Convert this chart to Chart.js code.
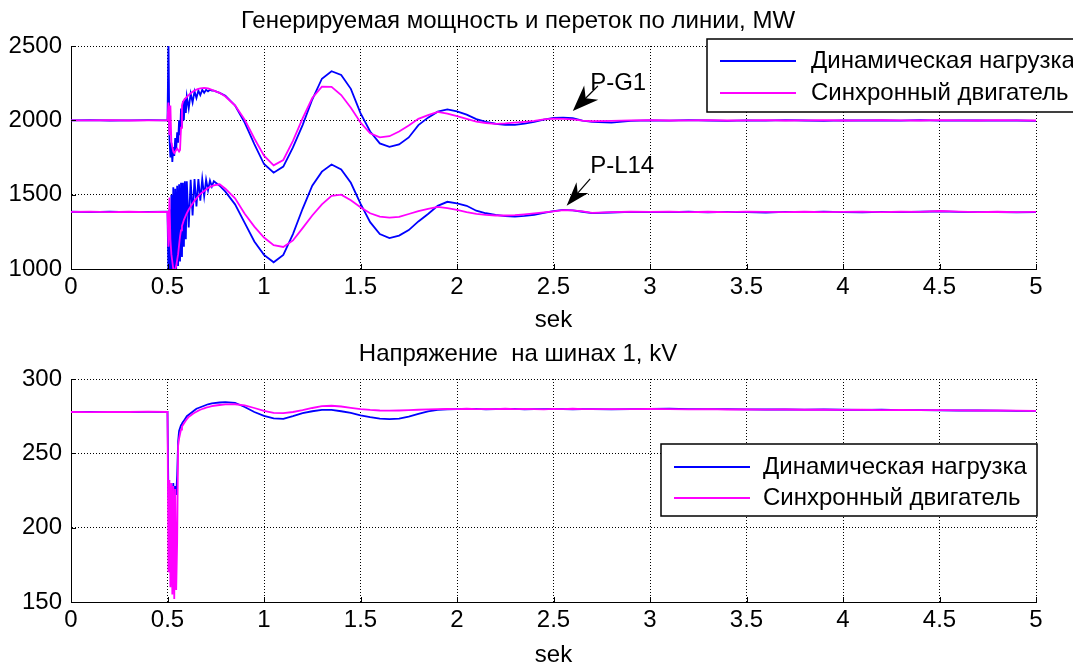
<!DOCTYPE html>
<html>
<head>
<meta charset="utf-8">
<script src="https://cdn.jsdelivr.net/npm/chart.js@4/dist/chart.umd.min.js"></script>
<style>
html,body{margin:0;padding:0;background:#fff;overflow:hidden;width:1073px;height:663px;}
#top{position:absolute;left:0;top:0;}
#bot{position:absolute;left:0;top:336px;}
</style>
</head>
<body>
<canvas id="top" width="1073" height="336"></canvas>
<canvas id="bot" width="1073" height="340"></canvas>
<script>
var FONT = '"Liberation Sans", Arial, sans-serif';
var FS = 24;

// time, s
var tSec = [0, 0.1, 0.2, 0.3, 0.4, 0.5,
    0.505, 0.51, 0.515, 0.52, 0.525, 0.53, 0.535, 0.54, 0.545, 0.55, 0.555, 0.56, 0.565, 0.57, 0.575, 0.58, 0.585, 0.59, 0.595, 0.6,
    0.61, 0.62, 0.63, 0.64, 0.65, 0.66, 0.67, 0.68, 0.69, 0.7, 0.71, 0.72, 0.73, 0.74,
    0.77, 0.8, 0.85, 0.9, 0.95, 1.0, 1.05, 1.1, 1.15, 1.2, 1.25, 1.3, 1.35, 1.4, 1.45, 1.5, 1.55, 1.6, 1.65, 1.7,
    1.75, 1.8, 1.85, 1.9, 1.95, 2.0, 2.05, 2.1, 2.15, 2.2, 2.25, 2.3, 2.35, 2.4, 2.45, 2.5, 2.55, 2.6, 2.65, 2.7,
    2.8, 2.9, 3.0, 3.1, 3.2, 3.3, 3.4, 3.5, 3.6, 3.7, 3.8, 3.9, 4.0, 4.1, 4.2, 4.3, 4.4, 4.5, 4.6, 4.7, 4.8, 4.9, 5.0];

// generator G1, MW
var g1Dyn = [2000, 2001, 1999, 2000, 2001, 2000,
    2560, 1880, 1750, 1850, 1720, 1820, 1760, 1880, 1800, 1920, 1850, 2000, 1900, 2080, 1950, 2130, 2000, 2150, 2050, 2160,
    2080, 2180, 2120, 2195, 2150, 2200, 2170, 2205, 2185, 2205, 2195, 2205, 2200, 2200,
    2185, 2165, 2100, 1985, 1840, 1706, 1648, 1689, 1818, 1968, 2140, 2280, 2330, 2305, 2212, 2048, 1925, 1845, 1822, 1838,
    1885, 1968, 2018, 2058, 2073, 2060, 2038, 2008, 1990, 1977, 1970, 1970, 1978, 1990, 2004, 2016, 2018, 2014, 1998, 1990,
    1985, 1996, 2000, 1998, 2001, 1999, 1997, 2000, 1998, 2001, 1999, 1997, 2000, 1999, 2000, 1998, 2001, 1998, 1999, 2000, 1998, 1999, 1997];
var g1Syn = [2000, 2000, 2001, 1999, 2000, 2000,
    2120, 1900, 2100, 1850, 1820, 1790, 1780, 1790, 1800, 1810, 1800, 1790, 1800, 1950, 2100, 2125, 2135, 2145, 2150, 2158,
    2170, 2182, 2192, 2200, 2207, 2212, 2215, 2217, 2218, 2217, 2215, 2210, 2205, 2200,
    2185, 2160, 2100, 2005, 1878, 1762, 1697, 1733, 1862, 2013, 2150, 2226, 2225, 2170, 2085, 1985, 1913, 1886, 1893, 1925,
    1965, 2010, 2035, 2057, 2045, 2028, 2010, 1992, 1982, 1976, 1979, 1984, 1990, 1996, 2006, 2012, 2010, 2006, 1998, 1994,
    1996, 2000, 2001, 1999, 2000, 2002, 1999, 2000, 2001, 1999, 2000, 2001, 1999, 2000, 2002, 2000, 1999, 2001, 2000, 1999, 2001, 2000, 1999];

// line L14, MW
var l14Dyn = [1385, 1383, 1386, 1382, 1384, 1385,
    950, 1400, 960, 1500, 950, 1550, 980, 1540, 1000, 1560, 1020, 1570, 1050, 1580, 1080, 1580, 1150, 1590, 1200, 1590,
    1280, 1600, 1360, 1605, 1420, 1605, 1460, 1605, 1490, 1600, 1530, 1595, 1555, 1590,
    1560, 1520, 1435, 1310, 1185, 1095, 1045, 1095, 1235, 1405, 1560, 1655, 1703, 1670, 1580, 1440, 1315, 1235, 1208, 1225,
    1262, 1320, 1370, 1425, 1452, 1442, 1425, 1392, 1375, 1364, 1355, 1352, 1357, 1365, 1377, 1390, 1398, 1395, 1385, 1376,
    1380, 1384, 1383, 1382, 1385, 1381, 1384, 1383, 1380, 1384, 1382, 1386, 1383, 1381, 1384, 1383, 1385, 1388, 1384, 1382, 1383, 1381, 1382];
var l14Syn = [1384, 1386, 1383, 1385, 1383, 1385,
    1150, 1480, 1200, 1100, 1050, 1000, 990, 1000, 1020, 1060, 1100, 1160, 1220, 1260, 1290, 1310, 1330, 1345, 1360, 1375,
    1400, 1420, 1440, 1460, 1475, 1490, 1505, 1515, 1525, 1535, 1545, 1552, 1558, 1563,
    1570, 1540, 1475, 1372, 1285, 1212, 1160, 1148, 1192, 1275, 1360, 1435, 1492, 1500, 1462, 1415, 1375, 1352, 1345, 1350,
    1370, 1390, 1405, 1418, 1410, 1397, 1383, 1371, 1364, 1360, 1360, 1363, 1368, 1374, 1381, 1388, 1396, 1394, 1387, 1378,
    1382, 1385, 1384, 1386, 1383, 1385, 1382, 1386, 1384, 1383, 1385, 1382, 1384, 1386, 1383, 1385, 1384, 1390, 1386, 1383, 1385, 1382, 1384];

// bus 1 voltage, kV
var uDyn = [277.8, 277.9, 277.7, 277.8, 277.9, 277.8,
    220, 228, 214, 226, 216, 230, 218, 228, 222, 235, 258, 265, 267, 269, 270, 271, 272, 273, 274, 275,
    276, 277, 278, 279, 280, 280.5, 281, 281.5, 282, 282.5, 283, 283.3, 283.6, 283.8,
    284.2, 284.5, 284, 281.2, 277.8, 275.2, 273.5, 273.2, 275, 277, 278.3, 279.2, 279.2, 278.3, 277.2, 275.6, 274.3, 273.3, 273, 273.4,
    274.7, 276.5, 278.2, 279.2, 279.6, 279.8, 279.7, 279.9, 279.6, 279.8, 279.7, 279.9, 279.6, 279.8, 279.7, 279.9, 279.8, 279.6, 279.8, 279.7,
    279.6, 279.8, 279.9, 280, 279.8, 279.7, 279.8, 279.6, 279.5, 279.6, 279.4, 279.5, 279.3, 279.2, 279.3, 279.1, 279, 278.9, 278.8, 278.9, 278.7, 278.6, 278.5];
var uSyn = [277.8, 277.7, 277.9, 277.8, 278, 277.8,
    170, 232, 160, 230, 155, 228, 152, 226, 158, 190, 255, 260, 263, 266, 268, 269, 270, 271, 272, 273,
    274.5, 275.5, 276.5, 277.3, 278, 278.7, 279.3, 279.8, 280.3, 280.7, 281, 281.4, 281.7, 282,
    282.5, 282.9, 283, 282.3, 280.5, 278.5, 277.2, 277, 277.8, 279, 280.5, 281.7, 282, 281.5, 280.6, 279.8, 279.2, 278.8, 278.7, 278.8,
    279, 279.3, 279.6, 279.8, 279.9, 279.8, 280, 279.7, 279.9, 279.8, 280, 279.7, 279.9, 279.8, 279.6, 279.9, 279.8, 280, 279.7, 279.8,
    279.8, 279.7, 279.9, 279.8, 279.6, 279.7, 279.5, 279.6, 279.4, 279.5, 279.3, 279.4, 279.2, 279.3, 279.1, 279.2, 279, 279.1, 278.9, 278.8, 278.9, 278.7, 278.6];

var legendLabels = ['Динамическая нагрузка', 'Синхронный двигатель'];
var lineColors = ['#0000ff', '#ff00ff'];

// text tags on the upper plot: [label, text x, text y, arrow tail x, y, arrow tip x, y] (axis units)
var tagG1 = ['P-G1', 2.69, 2251, 2.73, 2231, 2.60, 2063];
var tagL14 = ['P-L14', 2.69, 1693, 2.69, 1606, 2.568, 1426];

function pts(ys) {
    return tSec.map(function (t, i) { return {x: t, y: ys[i]}; });
}

function ds(ys, k) {
    return {
        data: pts(ys),
        borderColor: lineColors[k],
        borderWidth: 1.8,
        pointRadius: 0,
        tension: 0,
        fill: false,
        order: k == 0 ? 2 : 1
    };
}

function arrow(ctx, x0, y0, x1, y1, len, w) {
    var dx = x1 - x0, dy = y1 - y0, d = Math.sqrt(dx * dx + dy * dy);
    var ux = dx / d, uy = dy / d, nx = -uy, ny = ux;
    ctx.beginPath();
    ctx.moveTo(x0, y0);
    ctx.lineTo(x1 - ux * len * 0.6, y1 - uy * len * 0.6);
    ctx.stroke();
    ctx.beginPath();
    ctx.moveTo(x1, y1);
    ctx.lineTo(x1 - ux * len + nx * w, y1 - uy * len + ny * w);
    ctx.lineTo(x1 - ux * len * 0.7, y1 - uy * len * 0.7);
    ctx.lineTo(x1 - ux * len - nx * w, y1 - uy * len - ny * w);
    ctx.closePath();
    ctx.fill();
}

var matlabPlugin = {
    id: 'matlab',
    afterDraw: function (chart, args, opts) {
        var ctx = chart.ctx, xs = chart.scales.x, ys = chart.scales.y, a = chart.chartArea;
        ctx.save();
        ctx.strokeStyle = '#000';
        ctx.fillStyle = '#000';
        ctx.lineWidth = 1;
        // inward ticks
        xs.ticks.forEach(function (tk) {
            var px = Math.round(xs.getPixelForValue(tk.value)) + 0.5;
            ctx.beginPath(); ctx.moveTo(px, a.bottom); ctx.lineTo(px, a.bottom - 5); ctx.stroke();
        });
        ys.ticks.forEach(function (tk) {
            var py = Math.round(ys.getPixelForValue(tk.value)) + 0.5;
            ctx.beginPath(); ctx.moveTo(a.left, py); ctx.lineTo(a.left + 5, py); ctx.stroke();
        });
        // tags with arrows
        ctx.font = FS + 'px ' + FONT;
        ctx.textBaseline = 'middle';
        ctx.textAlign = 'left';
        (opts.tags || []).forEach(function (tg, i) {
            ctx.fillText(tg[0], xs.getPixelForValue(tg[1]), ys.getPixelForValue(tg[2]));
            ctx.lineWidth = 1.2;
            arrow(ctx, xs.getPixelForValue(tg[3]), ys.getPixelForValue(tg[4]),
                xs.getPixelForValue(tg[5]), ys.getPixelForValue(tg[6]), i == 0 ? 26 : 24, i == 0 ? 10 : 8);
        });
        // legend
        var lg = opts.box;
        ctx.fillStyle = '#fff';
        ctx.fillRect(lg[0], lg[1], lg[2], lg[3]);
        ctx.lineWidth = 1.5;
        ctx.strokeStyle = '#000';
        ctx.strokeRect(lg[0], lg[1], lg[2], lg[3]);
        legendLabels.forEach(function (txt, i) {
            var y = lg[1] + lg[4] + i * lg[5];
            ctx.strokeStyle = lineColors[i];
            ctx.lineWidth = 1.8;
            ctx.beginPath(); ctx.moveTo(lg[0] + 13, y); ctx.lineTo(lg[0] + 89, y); ctx.stroke();
            ctx.fillStyle = '#000';
            ctx.fillText(txt, lg[0] + lg[6], y);
        });
        ctx.restore();
    }
};

function axisFont() { return {family: FONT, size: FS}; }

function makeChart(id, title, sets, yMin, yMax, yStep, titlePad, xHeight, sekPad, pluginOpts) {
    return new Chart(document.getElementById(id), {
        type: 'line',
        data: {datasets: sets},
        plugins: [matlabPlugin],
        options: {
            responsive: false,
            animation: false,
            events: [],
            layout: {padding: {left: 0, right: 37, top: 0, bottom: 0}},
            plugins: {
                legend: {display: false},
                tooltip: {enabled: false},
                title: {display: true, text: title, color: '#000',
                    font: {family: FONT, size: FS, weight: 'normal'}, padding: titlePad},
                matlab: pluginOpts
            },
            scales: {
                x: {
                    type: 'linear', min: 0, max: 5,
                    ticks: {stepSize: 0.5, color: '#000', font: axisFont(), padding: 4, maxRotation: 0, autoSkip: false,
                        callback: function (v) { return String(Math.round(v * 10) / 10); }},
                    grid: {color: '#000', lineWidth: 1, drawTicks: false},
                    border: {color: '#000', width: 1, dash: [1, 2]},
                    title: {display: true, text: 'sek', color: '#000', font: axisFont(), padding: {top: 0, bottom: sekPad}},
                    afterFit: function (s) { s.height = xHeight; }
                },
                y: {
                    min: yMin, max: yMax,
                    ticks: {stepSize: yStep, color: '#000', font: axisFont(), padding: 9,
                        callback: function (v) { return String(v); }},
                    grid: {color: '#000', lineWidth: 1, drawTicks: false},
                    border: {color: '#000', width: 1, dash: [1, 2]},
                    afterFit: function (s) { s.width = 71; }
                }
            }
        }
    });
}

makeChart('top', 'Генерируемая мощность и переток по линии, MW',
    [ds(g1Dyn, 0), ds(g1Syn, 1), ds(l14Dyn, 0), ds(l14Syn, 1)],
    1000, 2500, 500, {top: 6.6, bottom: 10.6}, 67, 1.6,
    {tags: [tagG1, tagL14], box: [707, 39, 420, 73, 22, 32, 104]});

makeChart('bot', 'Напряжение  на шинах 1, kV',
    [ds(uDyn, 0), ds(uSyn, 1)],
    150, 300, 50, {top: 3.6, bottom: 10.6}, 74, 6.6,
    {tags: [], box: [661, 108, 376, 72, 23, 31, 102]});
</script>
</body>
</html>
